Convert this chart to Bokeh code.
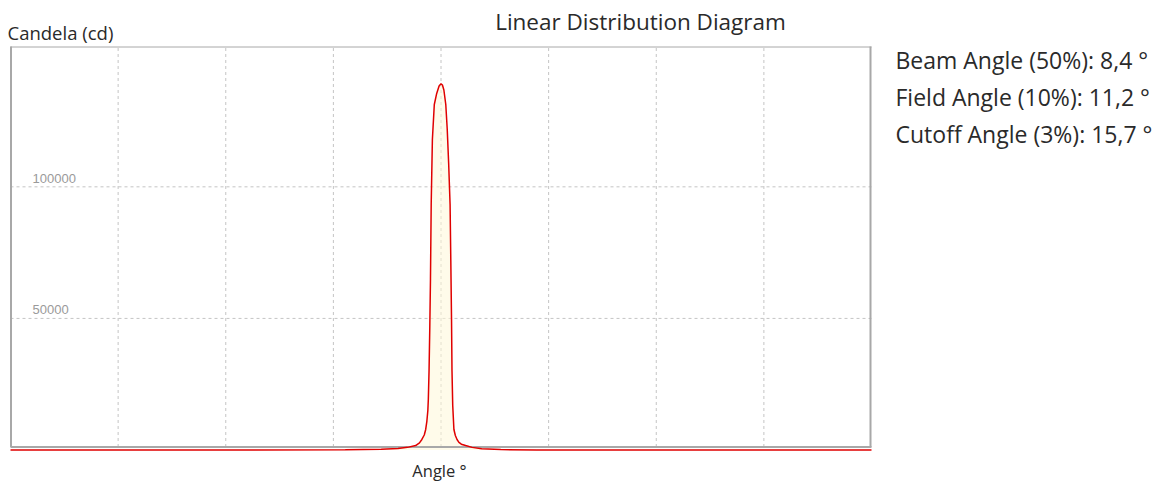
from bokeh.plotting import figure
from bokeh.models import Label, ColumnDataSource
from bokeh.core.properties import value
from bokeh.embed import file_html
from bokeh.resources import INLINE

# ---- data ----
angles = [-180, -90, -40, -25, -18, -14, -10.6, -9, -8, -7, -6.4, -5.9, -5.5, -5.3, -5.0,
          -4.7, -4.4, -4.1, -3.6, -2.8, -1.8, -0.8, 0, 0.6, 1.2, 2.0, 2.6, 3.2, 3.8, 4.1,
          4.4, 4.6, 4.9, 5.4, 6.0, 6.7, 7.5, 8.5, 10.3, 13, 17, 25, 40, 90, 180]
candela = [0, 0, 50, 250, 600, 1000, 1700, 2700, 4000, 5700, 7800, 11000, 15000, 19200, 30000,
           45800, 65000, 93300, 118000, 131300, 135500, 138300, 139150, 138700, 136800, 131300,
           122000, 109000, 93300, 72000, 50000, 30000, 17000, 7800, 5500, 4000, 2900, 2200,
           1700, 1000, 450, 150, 30, 0, 0]
x_grid_ticks = [-135, -90, -45, 0, 45, 90, 135]
y_ticks = [50000, 100000]
y_tick_labels = ["50000", "100000"]
title_text = "Linear Distribution Diagram"
y_title = "Candela (cd)"
x_title = "Angle °"
stats = ["Beam Angle (50%): 8,4 °", "Field Angle (10%): 11,2 °", "Cutoff Angle (3%): 15,7 °"]

FONT = "Open Sans"
PXX = 861 / 360.0          # px per degree
PXY = 1 / 380.0            # px per cd
X0, X1 = -180.0, 180.0
YTOP = 153330.0
ORX, ORY = 1, 1            # page position of the canvas
W, H = 1152, 482

def dx(px):  # page x -> data angle
    return X0 + (px - 11) / PXX

def dy(py):  # page y -> data cd
    return YTOP - (py - 47) / PXY

p = figure(width=W, height=H, min_border=0,
           x_range=(dx(ORX), dx(ORX + W)), y_range=(dy(ORY + H), dy(ORY)),
           output_backend="svg", toolbar_location=None)
p.xaxis.visible = False
p.yaxis.visible = False
p.xgrid.visible = False
p.ygrid.visible = False
p.outline_line_color = None
p.background_fill_color = "white"
p.border_fill_color = "white"

YBOT = dy(447.5)

# dashed grid lines, limited to the plot box
p.segment(x0=x_grid_ticks, x1=x_grid_ticks, y0=[YBOT] * len(x_grid_ticks),
          y1=[YTOP] * len(x_grid_ticks), line_color="#c4c4c4", line_dash="3 3", line_width=1)
p.segment(x0=[X0] * len(y_ticks), x1=[X1] * len(y_ticks), y0=y_ticks, y1=y_ticks,
          line_color="#c4c4c4", line_dash="3 3", line_width=1)

src = ColumnDataSource(dict(x=angles, y=candela, base=[0] * len(angles)))
p.varea(x="x", y1="base", y2="y", source=src, fill_color="#fff8d8", fill_alpha=0.55)

# plot box borders
p.segment(x0=[dx(11.5), dx(871)], x1=[dx(11.5), dx(871)], y0=[YBOT, YBOT], y1=[YTOP, YTOP],
          line_color="#a8a8a8", line_width=2)
p.segment(x0=[X0], x1=[X1], y0=[dy(47.5)], y1=[dy(47.5)], line_color="#a8a8a8", line_width=1)
p.segment(x0=[X0], x1=[dx(872)], y0=[YBOT], y1=[YBOT], line_color="#a8a8a8", line_width=2)

p.line(x="x", y="y", source=src, line_color="#e00000", line_width=1.5)

# tick labels inside the plot
p.text(x=[X0] * len(y_ticks), y=y_ticks, text=y_tick_labels, x_offset=22, y_offset=-4,
       text_font=value("Liberation Sans"), text_font_size="13px", text_color="#9a9a9a",
       text_baseline="bottom", text_align="left")

TXT = "#2a2a2a"
p.add_layout(Label(x=dx(641), y=dy(22), text=title_text, text_font=FONT,
                   text_font_size="22.5px", text_color=TXT, text_align="center",
                   text_baseline="middle"))
p.add_layout(Label(x=dx(8), y=dy(33), text=y_title, text_font=FONT,
                   text_font_size="18.5px", text_color=TXT, text_align="left",
                   text_baseline="middle"))
p.add_layout(Label(x=dx(440), y=dy(471), text=x_title, text_font=FONT,
                   text_font_size="16.5px", text_color=TXT, text_align="center",
                   text_baseline="middle"))
for i, s in enumerate(stats):
    p.add_layout(Label(x=dx(896), y=dy(60 + 37 * i), text=s, text_font=FONT,
                       text_font_size="23px", text_color=TXT, text_align="left",
                       text_baseline="middle"))

open("out.html", "w").write(file_html(p, INLINE))
